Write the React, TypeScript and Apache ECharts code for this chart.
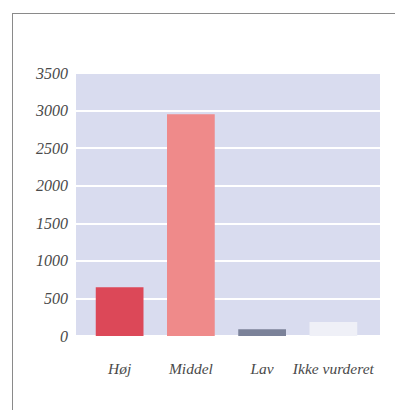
import React, { useEffect, useRef } from "react";
import * as echarts from "echarts";

const categories = ["Høj", "Middel", "Lav", "Ikke vurderet"];
const values = [650, 2950, 90, 185];
const barColors = ["#dc4858", "#ef8a8a", "#7b8299", "#eff0f7"];
const yTicks = [0, 500, 1000, 1500, 2000, 2500, 3000, 3500];

export default function App() {
  const ref = useRef<HTMLDivElement>(null);
  useEffect(() => {
    const chart = echarts.init(ref.current!, null, { renderer: "svg" });
    const font = "'Liberation Serif', 'DejaVu Serif', serif";
    const yMin = yTicks[0];
    const yMax = yTicks[yTicks.length - 1];
    chart.setOption({
      animation: false,
      backgroundColor: "#ffffff",
      graphic: [
        { type: "line", shape: { x1: 12.5, y1: 13, x2: 12.5, y2: 410 }, style: { stroke: "#8a8a8a", lineWidth: 1 } },
        { type: "line", shape: { x1: 12, y1: 13.5, x2: 395, y2: 13.5 }, style: { stroke: "#8a8a8a", lineWidth: 1 } },
      ],
      grid: [
        {
          left: 76,
          right: 15,
          top: 73,
          bottom: 74,
          show: true,
          backgroundColor: "#d9dcef",
          borderWidth: 0,
        },
        {
          left: 84,
          right: 26,
          top: 73,
          bottom: 74,
          show: false,
        },
      ],
      xAxis: [
        {
          gridIndex: 0,
          type: "category",
          data: categories,
          show: false,
        },
        {
          gridIndex: 1,
          type: "category",
          data: categories,
          axisLine: { show: false },
          axisTick: { show: false },
          axisLabel: {
            interval: 0,
            color: "#4a4a4a",
            fontFamily: font,
            fontStyle: "italic",
            fontSize: 15.5,
            margin: 24,
          },
        },
      ],
      yAxis: [
        {
          gridIndex: 0,
          type: "value",
          min: yMin,
          max: yMax,
          interval: 500,
          axisLine: { show: false },
          axisTick: { show: false },
          splitLine: { show: true, lineStyle: { color: "#ffffff", width: 2 } },
          axisLabel: {
            color: "#4a4a4a",
            fontFamily: font,
            fontStyle: "italic",
            fontSize: 16,
            margin: 8,
            formatter: (v: number) => String(v),
          },
        },
        {
          gridIndex: 1,
          type: "value",
          min: yMin,
          max: yMax,
          interval: 500,
          show: false,
          splitLine: { show: false },
        },
      ],
      series: [
        {
          type: "bar",
          xAxisIndex: 1,
          yAxisIndex: 1,
          data: values.map((v, i) => ({ value: v, itemStyle: { color: barColors[i] } })),
          barWidth: "67%",
        },
      ],
    });
    return () => chart.dispose();
  }, []);
  return (
    <div
      ref={ref}
      style={{ position: "fixed", left: 0, top: 0, width: 395, height: 410 }}
    />
  );
}
